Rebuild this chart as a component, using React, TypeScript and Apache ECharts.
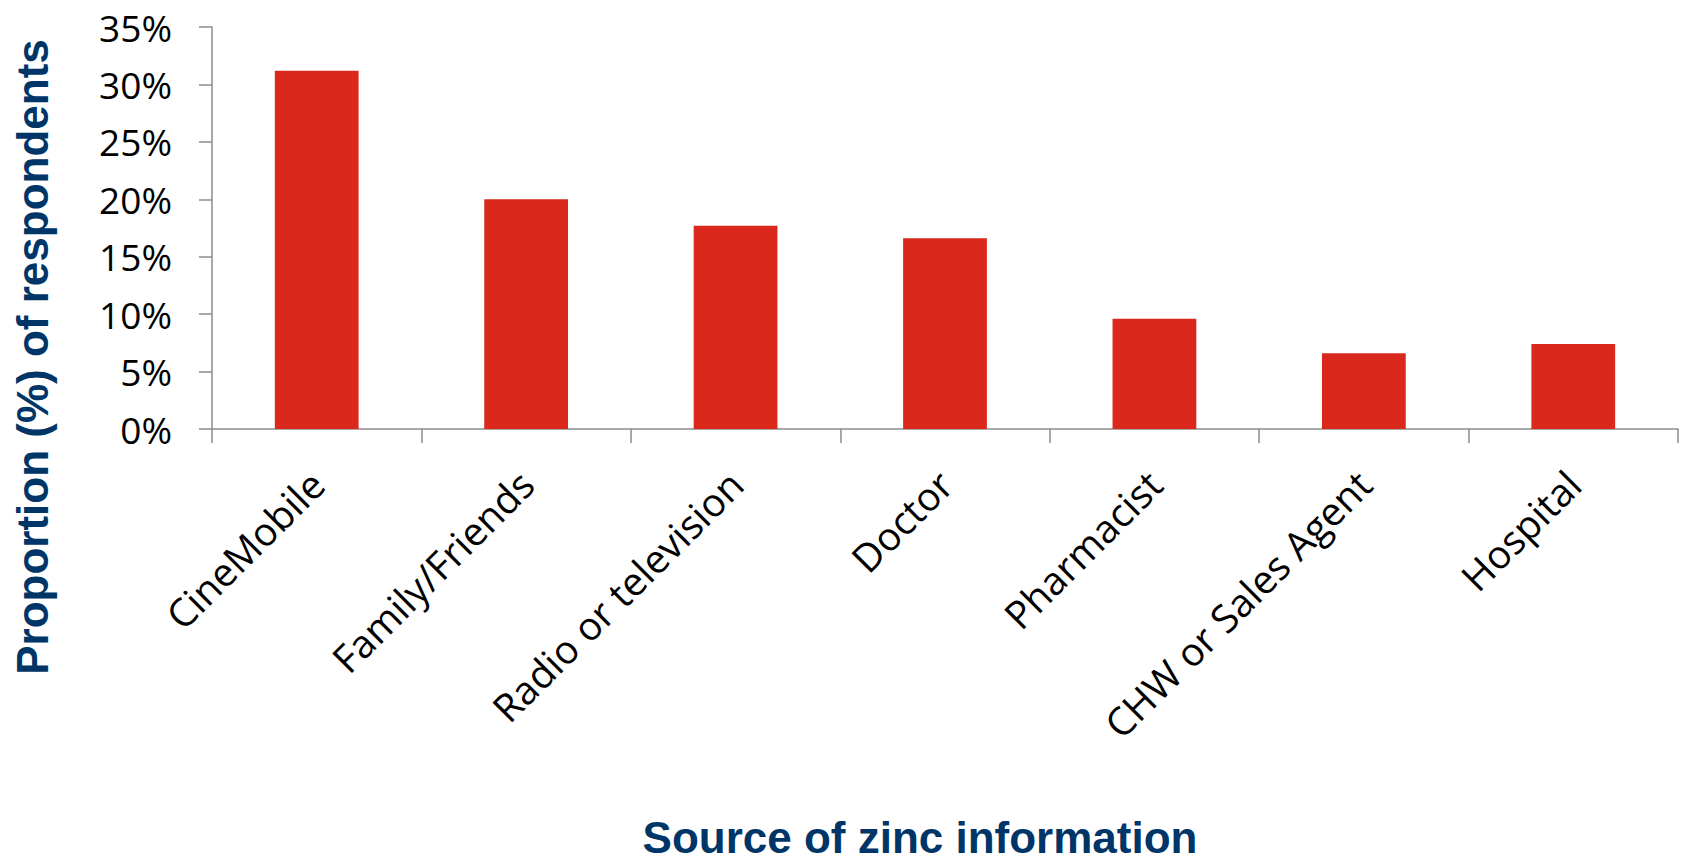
import React, { useEffect, useRef } from "react";
import * as echarts from "echarts";

const categories = [
  "CineMobile",
  "Family/Friends",
  "Radio or television",
  "Doctor",
  "Pharmacist",
  "CHW or Sales Agent",
  "Hospital",
];
const values = [31.2, 20.0, 17.7, 16.6, 9.6, 6.6, 7.4];
const yTitle = "Proportion (%) of respondents";
const xTitle = "Source of zinc information";

export default function App() {
  const ref = useRef<HTMLDivElement>(null);
  useEffect(() => {
    if (!ref.current) return;
    const chart = echarts.init(ref.current, null, { renderer: "svg" });
    const axisColor = "#8c8c8c";
    chart.setOption({
      animation: false,
      backgroundColor: "#ffffff",
      grid: { left: 212, right: 4, top: 27, bottom: 431, containLabel: false },
      xAxis: {
        type: "category",
        data: categories,
        axisLine: { lineStyle: { color: axisColor, width: 1.5 } },
        axisTick: { show: true, length: 14, lineStyle: { color: axisColor, width: 1.5 } },
        axisLabel: {
          rotate: 45,
          interval: 0,
          color: "#000",
          fontFamily: "Open Sans",
          fontSize: 39,
          margin: 48,
        },
      },
      yAxis: {
        type: "value",
        min: 0,
        max: 35,
        interval: 5,
        axisLine: { show: true, lineStyle: { color: axisColor, width: 1.5 } },
        axisTick: { show: true, length: 13, lineStyle: { color: axisColor, width: 1.5 } },
        splitLine: { show: false },
        axisLabel: {
          formatter: "{value}%",
          color: "#000",
          fontFamily: "Open Sans",
          fontSize: 37,
          margin: 40,
        },
      },
      series: [
        {
          type: "bar",
          data: values,
          barWidth: "40%",
          itemStyle: { color: "#da291c" },
        },
      ],
      graphic: [
        {
          type: "text",
          x: 920,
          y: 837,
          style: {
            text: xTitle,
            font: 'bold 44px "Liberation Sans", Arial, sans-serif',
            fill: "#003567",
            textAlign: "center",
            textVerticalAlign: "middle",
          },
        },
        {
          type: "text",
          x: 32,
          y: 357,
          rotation: Math.PI / 2,
          style: {
            text: yTitle,
            font: 'bold 44px "Liberation Sans", Arial, sans-serif',
            fill: "#003567",
            textAlign: "center",
            textVerticalAlign: "middle",
          },
        },
      ],
    });
    return () => chart.dispose();
  }, []);
  return (
    <div
      ref={ref}
      style={{ position: "absolute", left: 0, top: 0, width: 1682, height: 860 }}
    />
  );
}
